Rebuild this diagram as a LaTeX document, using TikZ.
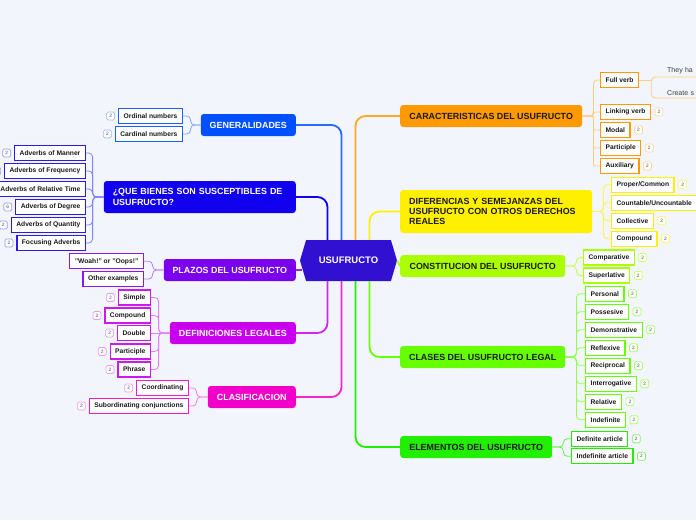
\documentclass[tikz,border=0pt]{standalone}
\usepackage{fontspec}
\setmainfont{Liberation Sans}
\usepackage{xcolor}
\usepackage{tikz}
\usetikzlibrary{positioning,shapes.symbols}

\definecolor{bgcol}{HTML}{F3F5FD}
\definecolor{hubcol}{HTML}{3210D2}
\definecolor{gencol}{HTML}{0050FF}
\definecolor{quecol}{HTML}{1000EE}
\definecolor{placol}{HTML}{7A00EE}
\definecolor{defcol}{HTML}{C800EE}
\definecolor{clfcol}{HTML}{F000C8}
\definecolor{carcol}{HTML}{FF9900}
\definecolor{difcol}{HTML}{FFF000}
\definecolor{concol}{HTML}{AAFF00}
\definecolor{clscol}{HTML}{66FF00}
\definecolor{elecol}{HTML}{22EE00}
\definecolor{txtcol}{HTML}{1A1A1A}

\begin{document}
\begin{tikzpicture}
    [x=1pt,y=-1pt,
    topic node/.style={rounded corners=3pt,minimum height=22pt,inner sep=0pt,font=\bfseries\fontsize{8.9}{10.2}\selectfont},
    sub node/.style={draw,fill=white,line width=1.3pt,minimum height=15pt,inner xsep=5pt,inner ysep=0pt,text=txtcol,font=\bfseries\fontsize{6.7}{8}\selectfont},
    badge node/.style={draw,fill=white,rounded corners=1.5pt,line width=.7pt,minimum width=8pt,minimum height=8pt,inner sep=0pt,text=black!70,font=\fontsize{4.8}{5}\selectfont},
    plain node/.style={anchor=south west,inner xsep=6pt,inner ysep=2.5pt,text width=40pt,align=left,text=txtcol!85,font=\fontsize{7}{8}\selectfont},
    trunk line/.style={line width=1.8pt,rounded corners=10pt},
    bracket line/.style={line width=.8pt,rounded corners=4pt}]

    \useasboundingbox (0,0) rectangle (696,520);
    \clip (0,0) rectangle (696,520);
    \fill[bgcol] (0,0) rectangle (696,520);

    % centre
    \node[signal,signal to=east and west,signal pointer angle=147,fill=hubcol,minimum width=97pt,minimum height=41pt,inner sep=0pt,text=white,font=\bfseries\fontsize{9.5}{11}\selectfont] (hub) at (348.5,260.5) {USUFRUCTO};

    % left topics
    \node[topic node,fill=gencol,text=white,minimum width=95pt,anchor=east] (gen) at (296,125) {GENERALIDADES};
    \node[topic node,fill=quecol,text=white,minimum width=192pt,minimum height=32pt,text width=174pt,align=left,anchor=east] (que) at (296,197) {¿QUE BIENES SON SUSCEPTIBLES DE\\USUFRUCTO?};
    \node[topic node,fill=placol,text=white,minimum width=132pt,anchor=east] (pla) at (296,270) {PLAZOS DEL USUFRUCTO};
    \node[topic node,fill=defcol,text=white,minimum width=126pt,anchor=east] (def) at (296,333) {DEFINICIONES LEGALES};
    \node[topic node,fill=clfcol,text=white,minimum width=88pt,anchor=east] (clf) at (296,397) {CLASIFICACION};

    % right topics
    \node[topic node,fill=carcol,text=txtcol,minimum width=182pt,anchor=west] (car) at (400,116) {CARACTERISTICAS DEL USUFRUCTO};
    \node[topic node,fill=difcol,text=txtcol,minimum width=192pt,minimum height=43pt,text width=174pt,align=left,anchor=west] (dif) at (400,211.5) {DIFERENCIAS Y SEMEJANZAS DEL\\USUFRUCTO CON OTROS DERECHOS\\REALES};
    \node[topic node,fill=concol,text=txtcol,minimum width=165pt,anchor=west] (con) at (400,266) {CONSTITUCION DEL USUFRUCTO};
    \node[topic node,fill=clscol,text=txtcol,minimum width=165pt,anchor=west] (cls) at (400,357) {CLASES DEL USUFRUCTO LEGAL};
    \node[topic node,fill=elecol,text=txtcol,minimum width=152pt,anchor=west] (ele) at (400,447) {ELEMENTOS DEL USUFRUCTO};

    % trunk lines
    \draw[trunk line,quecol] ([xshift=-21pt]hub.north) |- (que.east);
    \draw[trunk line,gencol!85] ([xshift=-7pt]hub.north) |- (gen.east);
    \draw[trunk line,carcol!85] ([xshift=7pt]hub.north) |- (car.west);
    \draw[trunk line,difcol] ([xshift=21pt]hub.north) |- (dif.west);
    \draw[trunk line,defcol!85] ([xshift=-21pt]hub.south) |- (def.east);
    \draw[trunk line,clfcol!85] ([xshift=-7pt]hub.south) |- (clf.east);
    \draw[trunk line,elecol] ([xshift=7pt]hub.south) |- (ele.west);
    \draw[trunk line,clscol] ([xshift=21pt]hub.south) |- (cls.west);
    \draw[trunk line,placol!85] (pla.east) -- (pla.east -| hub.190);
    \draw[trunk line,concol] (hub.east) -- (con.west);

    % generalidades
    \coordinate (genj) at ([xshift=-10pt]gen.west);
    \foreach \t/\y [count=\i] in {Ordinal numbers/116, Cardinal numbers/134}{
        \node[sub node,draw=gencol!90,anchor=east] (gen\i) at (183,\y) {\t};
        \node[badge node,draw=gencol!40,left=3pt of gen\i] (genb\i) {2};
        \draw[bracket line,gencol!50] (gen.west) -- (genj) |- (gen\i.east);
    }

    % que bienes
    \coordinate (quej) at ([xshift=-11pt]que.west);
    \foreach \t/\y/\b [count=\i] in {Adverbs of Manner/153/2, Adverbs of Frequency/171/2, Adverbs of Relative Time/189/0, Adverbs of Degree/207/6, Adverbs of Quantity/225/2, Focusing Adverbs/243/2}{
        \node[sub node,draw=quecol!90,anchor=east] (que\i) at (86,\y) {\t};
        \ifnum\b>0 \node[badge node,draw=quecol!40,left=3pt of que\i] (queb\i) {\b};\fi
        \draw[bracket line,quecol!50] (que.west) -- (quej) |- (que\i.east);
    }

    % plazos
    \coordinate (plaj) at ([xshift=-11pt]pla.west);
    \foreach \t/\y [count=\i] in {"Woah!" or "Oops!"/261.3, Other examples/279}{
        \node[sub node,draw=placol!90,anchor=east] (pla\i) at (144,\y) {\t};
        \draw[bracket line,placol!50] (pla.west) -- (plaj) |- (pla\i.east);
    }

    % definiciones
    \coordinate (defj) at ([xshift=-11pt]def.west);
    \foreach \t/\y [count=\i] in {Simple/297.5, Compound/315.5, Double/333, Participle/351.5, Phrase/369.5}{
        \node[sub node,draw=defcol!90,anchor=east] (def\i) at (151,\y) {\t};
        \node[badge node,draw=defcol!40,left=3pt of def\i] (defb\i) {2};
        \ifdim\y pt=333pt
            \draw[bracket line,defcol!50] (def.west) -- (def\i.east);
        \else
            \draw[bracket line,defcol!50] (def.west) -- (defj) |- (def\i.east);
        \fi
    }

    % clasificacion
    \coordinate (clfj) at ([xshift=-11pt]clf.west);
    \foreach \t/\y [count=\i] in {Coordinating/388, Subordinating conjunctions/406}{
        \node[sub node,draw=clfcol!90,anchor=east] (clf\i) at (189,\y) {\t};
        \node[badge node,draw=clfcol!40,left=3pt of clf\i] (clfb\i) {2};
        \draw[bracket line,clfcol!50] (clf.west) -- (clfj) |- (clf\i.east);
    }

    % caracteristicas
    \coordinate (carj) at ([xshift=11pt]car.east);
    \node[sub node,draw=carcol,anchor=west] (fullv) at (600,80) {Full verb};
    \draw[bracket line,carcol!50] (car.east) -- (carj) |- (fullv.west);
    \foreach \t/\y [count=\i] in {Linking verb/112, Modal/130, Participle/148, Auxiliary/166}{
        \node[sub node,draw=carcol,anchor=west] (car\i) at (600,\y) {\t};
        \node[badge node,draw=carcol!40,right=3.5pt of car\i] (carb\i) {2};
        \draw[bracket line,carcol!50,rounded corners=2pt] (car.east) -- (carj) |- (car\i.west);
    }
    \coordinate (fvj) at ([xshift=12pt]fullv.east);
    \node[plain node] (they) at (661,77) {They ha};
    \node[plain node] (create) at (661,98) {Create s};
    \draw[bracket line,carcol!50] (fullv.east) -- (fvj);
    \draw[bracket line,carcol!50] (they.south east) -- (fvj |- they.south) -- (fvj |- create.south) -- (create.south east);

    % diferencias
    \coordinate (difj) at ([xshift=11pt]dif.east);
    \foreach \t/\y/\b [count=\i] in {{Proper/Common}/184.7/2, {Countable/Uncountable}/202.7/0, Collective/220.7/2, Compound/238.7/2}{
        \node[sub node,draw=difcol,anchor=west] (dif\i) at (611,\y) {\t};
        \ifnum\b>0 \node[badge node,draw=difcol!60,right=3.5pt of dif\i] (difb\i) {\b};\fi
        \draw[bracket line,difcol!70] (dif.east) -- (difj) |- (dif\i.west);
    }

    % constitucion
    \coordinate (conj) at ([xshift=11pt]con.east);
    \foreach \t/\y [count=\i] in {Comparative/257.5, Superlative/275.5}{
        \node[sub node,draw=concol,anchor=west] (con\i) at (583,\y) {\t};
        \node[badge node,draw=concol!60,right=3.5pt of con\i] (conb\i) {2};
        \draw[bracket line,concol!70] (con.east) -- (conj) |- (con\i.west);
    }

    % clases
    \coordinate (clsj) at ([xshift=11pt]cls.east);
    \foreach \t/\y [count=\i] in {Personal/293.7, Possesive/311.7, Demonstrative/329.7, Reflexive/347.7, Reciprocal/365.7, Interrogative/383.7, Relative/401.7, Indefinite/419.7}{
        \node[sub node,draw=clscol,anchor=west] (cls\i) at (585,\y) {\t};
        \node[badge node,draw=clscol!60,right=3.5pt of cls\i] (clsb\i) {2};
        \draw[bracket line,clscol!70] (cls.east) -- (clsj) |- (cls\i.west);
    }

    % elementos
    \coordinate (elej) at ([xshift=11pt]ele.east);
    \foreach \t/\y [count=\i] in {Definite article/438.7, Indefinite article/456.3}{
        \node[sub node,draw=elecol,anchor=west] (ele\i) at (571,\y) {\t};
        \node[badge node,draw=elecol!60,right=3.5pt of ele\i] (eleb\i) {2};
        \draw[bracket line,elecol!70] (ele.east) -- (elej) |- (ele\i.west);
    }
\end{tikzpicture}
\end{document}
